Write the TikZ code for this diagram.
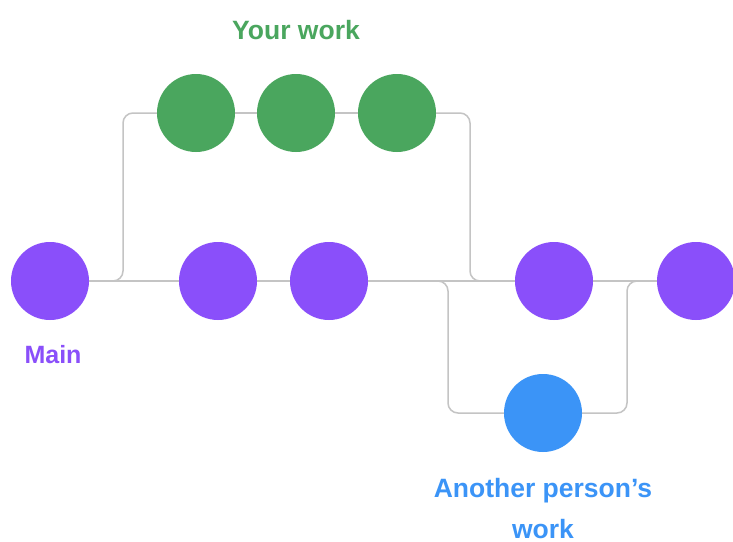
\documentclass[tikz,border=0pt]{standalone}
\usepackage{fontspec}
\setmainfont{Liberation Sans}
\definecolor{mainc}{HTML}{8A4FFA}
\definecolor{yourc}{HTML}{4AA65E}
\definecolor{otherc}{HTML}{3B94F7}
\definecolor{linec}{HTML}{C4C4C4}
\tikzset{
  commit/.style={circle, inner sep=0pt, minimum size=78pt},
  maincommit/.style={commit, fill=mainc},
  yourcommit/.style={commit, fill=yourc},
  othercommit/.style={commit, fill=otherc},
  branchline/.style={draw=linec, line width=1.5pt, rounded corners=10pt},
  lbl/.style={font=\fontsize{25}{41}\selectfont\bfseries, anchor=base, align=center, inner sep=0pt},
  biglbl/.style={lbl, font=\fontsize{26.5}{41}\selectfont\bfseries}
}
\begin{document}
\begin{tikzpicture}[x=1pt, y=-1pt]
\useasboundingbox (0,0) rectangle (733,541);
\fill[white] (0,0) rectangle (733,541);
% commits
\node[maincommit] (m1) at (50,281) {};
\node[maincommit] (m2) at (218,281) {};
\node[maincommit] (m3) at (329,281) {};
\node[maincommit] (m4) at (554,281) {};
\node[maincommit] (m5) at (696,281) {};
\node[yourcommit] (g1) at (196,113) {};
\node[yourcommit] (g2) at (296,113) {};
\node[yourcommit] (g3) at (397,113) {};
\node[othercommit] (b1) at (543,413) {};
% corner coordinates
\coordinate (s1) at (100,281);
\coordinate (k1) at (123,281);
\coordinate (k2) at (123,113);
\coordinate (k3) at (470,113);
\coordinate (k4) at (470,281);
\coordinate (e1) at (495,281);
\coordinate (s2) at (425,281);
\coordinate (k5) at (448,281);
\coordinate (k6) at (448,413);
\coordinate (k7) at (627,413);
\coordinate (k8) at (627,281);
\coordinate (e2) at (650,281);
% connectors
\path[branchline] (m1.east) -- (m2.west) (m2.east) -- (m3.west) (m3.east) -- (m4.west) (m4.east) -- (m5.west);
\path[branchline] (g1.east) -- (g2.west) (g2.east) -- (g3.west);
\path[branchline] (s1) -- (k1) -- (k2) -- (g1.west);
\path[branchline] (g3.east) -- (k3) -- (k4) -- (e1);
\path[branchline] (s2) -- (k5) -- (k6) -- (b1.west);
\path[branchline] (b1.east) -- (k7) -- (k8) -- (e2);
% labels
\node[biglbl, text=yourc] (lyour) at (296,39) {Your work};
\node[lbl, text=mainc] (lmain) at (53,363) {Main};
\node[biglbl, text=otherc] (lother) at (543,538) {Another person’s\\work};
\end{tikzpicture}
\end{document}
